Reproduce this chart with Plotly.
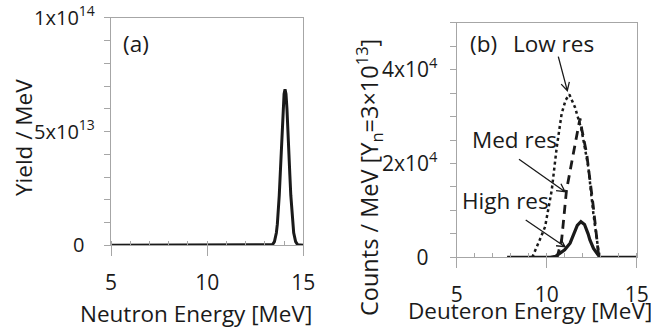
import math
import plotly.graph_objects as go

# ---- Panel (a): neutron spectrum ----
neutron_energy = [5, 13.4, 13.5, 13.6, 13.65, 13.7, 13.75, 13.8, 13.85, 13.9, 13.95, 14.0, 14.05,
                  14.1, 14.15, 14.2, 14.25, 14.3, 14.35, 14.4, 14.45, 14.5, 14.6, 14.7, 15]
neutron_yield = [0, 0.03e13, 0.16e13, 0.55e13, 0.93e13, 1.5e13, 2.2e13, 3.1e13, 4.15e13, 5.2e13, 6.0e13, 6.65e13, 6.85e13,
                 6.65e13, 6.0e13, 5.2e13, 4.15e13, 3.1e13, 2.2e13, 1.5e13, 0.93e13, 0.55e13, 0.16e13, 0.03e13, 0]

# ---- Panel (b): deuteron spectra ----
high_x = [7.8, 10.2, 10.5, 10.75, 11.0, 11.3, 11.5, 11.7, 11.9, 12.1, 12.3, 12.4, 12.6, 12.8, 12.95, 15]
high_y = [0, 0, 200, 850, 1600, 3000, 4800, 6800, 7600, 7000, 5000, 3700, 1900, 700, 0, 0]

med_x = [10.5, 10.6, 10.83, 11.1, 11.48, 11.67, 11.85, 11.95, 12.22, 12.59, 12.87, 12.95]
med_y = [0, 300, 3700, 14300, 22100, 26400, 29600, 27300, 22100, 10800, 900, 0]

low_x = [9.2, 9.35, 9.6, 9.91, 10.28, 10.56, 10.83, 11.05, 11.26, 11.57, 11.94, 12.31, 12.59, 12.87, 12.97]
low_y = [0, 1500, 3600, 6500, 14300, 23500, 30600, 33500, 34700, 32000, 27100, 19300, 9400, 1500, 0]

x_ticks = [5, 10, 15]
ya_tickvals = [0, 5e13, 1e14]
ya_ticktext = ["0&nbsp;&nbsp;", "5x10<sup>13</sup>", "1x10<sup>14</sup>"]
yb_tickvals = [0, 2e4, 4e4]
yb_ticktext = ["0&nbsp;\u2009", "2x10<sup>4</sup>", "4x10<sup>4</sup>"]

W, H = 651, 328
FONT = "Open Sans"
FS = 21
FT = 22.5
INK = "#1a1a1a"
GRID = "#a6a6a6"

fig = go.Figure()
fig.add_trace(go.Scatter(x=neutron_energy, y=neutron_yield, mode="lines",
                         line=dict(color=INK, width=3), xaxis="x", yaxis="y", showlegend=False))
fig.add_trace(go.Scatter(x=low_x, y=low_y, mode="lines",
                         line=dict(color=INK, width=2.5, dash="dot"), xaxis="x2", yaxis="y2", showlegend=False))
fig.add_trace(go.Scatter(x=med_x, y=med_y, mode="lines",
                         line=dict(color=INK, width=2.8, dash="9px,6px"), xaxis="x2", yaxis="y2", showlegend=False))
fig.add_trace(go.Scatter(x=high_x, y=high_y, mode="lines",
                         line=dict(color=INK, width=3.2), xaxis="x2", yaxis="y2", showlegend=False))


def px(xp):
    return xp / W


def py(yp):
    return 1 - yp / H


def xaxis_style(standoff):
    return dict(showline=True, linecolor=GRID, linewidth=1.3, mirror=True, showgrid=False, zeroline=False,
                ticks="outside", ticklen=10, tickcolor=GRID, tickwidth=1,
                minor=dict(ticks="inside", ticklen=4, tickcolor=GRID, dtick=1),
                tickfont=dict(family=FONT, size=FS, color=INK), tickvals=x_ticks,
                ticklabelstandoff=standoff, range=[5, 15], fixedrange=True, automargin=False)


def yaxis_style(standoff, minor_dtick, size):
    return dict(showline=True, linecolor=GRID, linewidth=1.3, mirror=True, showgrid=False, zeroline=False,
                ticks="outside", ticklen=6, tickcolor=GRID, tickwidth=1,
                minor=dict(ticks="outside", ticklen=6, tickcolor=GRID, dtick=minor_dtick),
                tickfont=dict(family=FONT, size=size, color=INK), ticklabelstandoff=standoff,
                fixedrange=True, automargin=False)


fig.update_layout(
    template="none",
    width=W, height=H, margin=dict(l=0, r=0, t=0, b=0, autoexpand=False),
    paper_bgcolor="white", plot_bgcolor="white",
    font=dict(family=FONT, size=FS, color=INK),
    xaxis=dict(domain=[px(111), px(303.3)], anchor="y", **xaxis_style(8)),
    yaxis=dict(domain=[py(245.3), py(17.5)], anchor="x", range=[0, 1.001e14],
               tickvals=ya_tickvals, ticktext=ya_ticktext, **yaxis_style(5, 1e13, 20)),
    xaxis2=dict(domain=[px(456.7), px(636.7)], anchor="y2", **xaxis_style(8)),
    yaxis2=dict(domain=[py(257.3), py(22.7)], anchor="x2", range=[0, 5e4],
                tickvals=yb_tickvals, ticktext=yb_ticktext, **yaxis_style(8, 5e3, FS)),
)


def label(text, x, y, angle=0, size=FT):
    fig.add_annotation(text=text, x=px(x), y=py(y), xref="paper", yref="paper",
                       showarrow=False, textangle=angle, xanchor="center", yanchor="middle",
                       font=dict(family=FONT, size=size, color=INK))


label("Neutron Energy [MeV]", 196, 313)
label("Deuteron Energy [MeV]", 530, 310)
label("Yield / MeV", 24, 138, angle=-90)
label("Counts / MeV [Y<sub>n</sub>=3×10<sup>13</sup>]", 369, 178, angle=-90, size=23.5)
label("(a)", 136, 43)
label("(b)", 483, 43)
label("Low res", 553, 43)
label("Med res", 514, 140)
label("High res", 505, 200)


def arrow(tail, tip, head=9, spread=28):
    # thin line with an open V head, given in picture pixels
    (x0, y0), (x1, y1) = tail, tip
    ang = math.atan2(y0 - y1, x0 - x1)
    pts = []
    for s in (-spread, spread):
        a = ang + math.radians(s)
        pts.append((x1 + head * math.cos(a), y1 + head * math.sin(a)))
    path = (f"M{px(x0)},{py(y0)} L{px(x1)},{py(y1)} "
            f"M{px(pts[0][0])},{py(pts[0][1])} L{px(x1)},{py(y1)} L{px(pts[1][0])},{py(pts[1][1])}")
    fig.add_shape(type="path", xref="paper", yref="paper", path=path,
                  line=dict(color=INK, width=1.3))


arrow((558.3, 56.7), (567.3, 90.7))
arrow((519.0, 159.3), (565.0, 191.7))
arrow((525.7, 220.0), (565.0, 246.7))

fig.write_html("out.html")
